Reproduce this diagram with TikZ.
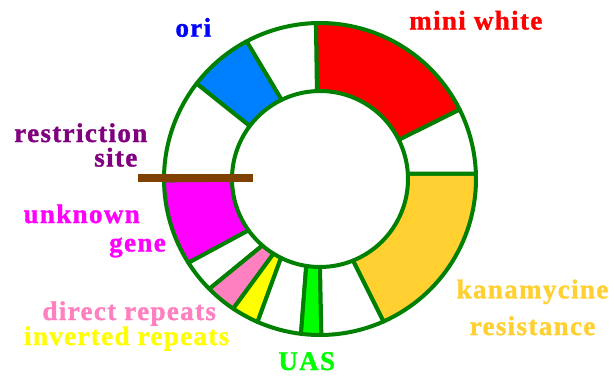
\documentclass[tikz,border=0pt]{standalone}
\usepackage{fontspec}
\newfontfamily\lblfont{Liberation Serif Bold}[LetterSpace=5,FakeBold=1.2]
\definecolor{ringgreen}{RGB}{0,128,0}
\definecolor{segblue}{RGB}{0,128,255}
\definecolor{kana}{RGB}{255,208,48}
\definecolor{pinkish}{RGB}{255,128,192}
\definecolor{brownbar}{RGB}{128,64,0}
\definecolor{purp}{RGB}{128,0,128}
\definecolor{magen}{RGB}{255,0,255}
\definecolor{brgreen}{RGB}{0,255,0}
\definecolor{yel}{RGB}{255,255,0}
\definecolor{rd}{RGB}{255,0,0}
\definecolor{bl}{RGB}{0,0,255}
\begin{document}
\begin{tikzpicture}[x=1pt,y=1pt,
  seg/.style={fill=#1,draw=ringgreen,line width=4pt,line join=round},
  lbl/.style={text=#1,font=\lblfont\fontsize{27}{30}\selectfont,anchor=base,inner sep=0pt}]
\useasboundingbox (0,0) rectangle (614,376);
\fill[white] (0,0) rectangle (614,376);
\begin{scope}[shift={(320,197)}]
\def\R{156}\def\r{88}
\newcommand\segment[5]{%
  \path[seg=#5] (#1:\R) arc[start angle=#1,end angle=#2,radius=\R] -- (#4:\r) arc[start angle=#4,end angle=#3,radius=\r] -- cycle;}
% outer start, outer end, inner start, inner end, colour
\segment{294}{362}{292}{363.5}{kana}
\segment{2}{26.5}{3.5}{26.5}{white}
\segment{26.5}{91.5}{26.5}{92}{rd}
\segment{91.5}{118.1}{92}{115.9}{white}
\segment{118.1}{142.3}{115.9}{143}{segblue}
\segment{142.3}{180.5}{143}{180.5}{white}
\segment{180.5}{212.5}{180.5}{215.7}{magen}
\segment{212.5}{224.8}{215.7}{229.1}{white}
\segment{224.8}{236.2}{229.1}{238.1}{pinkish}
\segment{236.2}{246.4}{238.1}{243.7}{yel}
\segment{246.4}{263}{243.7}{261}{white}
\segment{263}{270.5}{261}{270}{brgreen}
\segment{270.5}{294}{270}{292}{white}
\end{scope}
\coordinate (barL) at (138,198.5);
\coordinate (barR) at (253,198.5);
\draw[brownbar,line width=8pt] (barL) -- (barR);
\node[lbl=bl] (ori) at (193.3,339.3) {ori};
\node[lbl=rd] (mini) at (475.8,346.5) {mini white};
\node[lbl=purp] (restr) at (80.8,234) {restriction};
\node[lbl=purp] (site) at (115.8,209.5) {site};
\node[lbl=magen] (unk) at (81.7,153) {unknown};
\node[lbl=magen] (gene) at (137.5,124.5) {gene};
\node[lbl=pinkish] (direct) at (129.2,56) {direct repeats};
\node[lbl=yel] (inv) at (126.7,31) {inverted repeats};
\node[lbl=brgreen] (uas) at (306.7,6) {UAS};
\node[lbl=kana] (kan) at (532.5,77.7) {kanamycine};
\node[lbl=kana] (res) at (532.5,41) {resistance};
\end{tikzpicture}
\end{document}
